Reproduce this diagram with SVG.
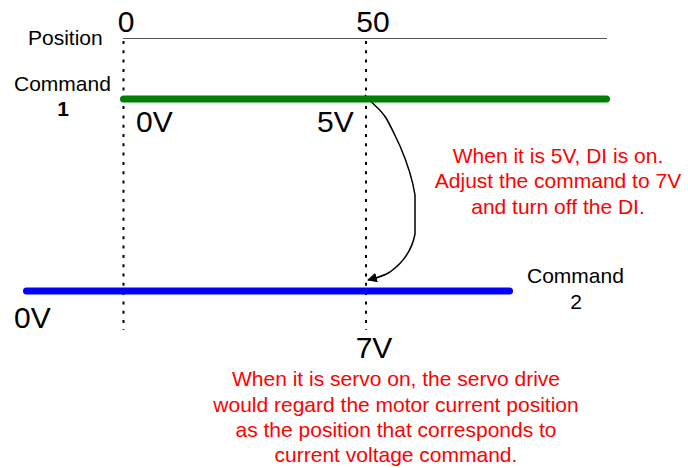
<svg xmlns="http://www.w3.org/2000/svg" width="688" height="468" viewBox="0 0 688 468">
<style>
text{font-family:"Liberation Sans",Arial,sans-serif;fill:#000}
.lbl{font-size:21px}
.big{font-size:30px}
.red{font-size:21px;fill:#ff0000;text-anchor:middle}
.dot{stroke:#000;stroke-width:2;stroke-dasharray:3 6.3;fill:none}
</style>
<defs>
<marker id="ah" markerWidth="10" markerHeight="10" refX="9" refY="5" orient="auto" markerUnits="userSpaceOnUse">
<path d="M0,0 L10,5 L0,10 Z" fill="#000"/>
</marker>
</defs>
<rect width="688" height="468" fill="#fff"/>
<g id="axis">
<line x1="123" y1="38.5" x2="607" y2="38.5" stroke="#555" stroke-width="1.2"/>
<text class="lbl" x="28" y="45">Position</text>
<text class="big" x="126" y="32" text-anchor="middle">0</text>
<text class="big" x="373" y="32" text-anchor="middle">50</text>
</g>
<g id="connectors">
<line class="dot" x1="123.5" y1="41" x2="123.5" y2="330"/>
<line class="dot" x1="366" y1="41" x2="366" y2="330"/>
<path d="M365,95 C372,104 380,108 386,118 C392,128 395,136 400,146 C406,160 412,176 415,195 L415,234 C412,250 404,262 390,272 C382,277 375,278 368,280" fill="none" stroke="#000" stroke-width="1.5" marker-end="url(#ah)"/>
</g>
<g id="command1">
<line x1="123.5" y1="99" x2="606.5" y2="99" stroke="#008000" stroke-width="7" stroke-linecap="round"/>
<text class="lbl" x="14" y="91">Command</text>
<text class="lbl" x="63" y="116" text-anchor="middle" font-weight="bold">1</text>
<text class="big" x="136" y="132">0V</text>
<text class="big" x="317" y="132">5V</text>
</g>
<g id="command2">
<line x1="26.5" y1="291" x2="509.5" y2="291" stroke="#0000ff" stroke-width="7" stroke-linecap="round"/>
<text class="lbl" x="527" y="283">Command</text>
<text class="lbl" x="576" y="309" text-anchor="middle">2</text>
<text class="big" x="14" y="328" font-size="35">0V</text>
<text class="big" x="374" y="358" text-anchor="middle">7V</text>
</g>
<g id="note1">
<text class="red" x="558" y="163">When it is 5V, DI is on.</text>
<text class="red" x="558" y="188">Adjust the command to 7V</text>
<text class="red" x="558" y="214">and turn off the DI.</text>
</g>
<g id="note2">
<text class="red" x="396" y="386">When it is servo on, the servo drive</text>
<text class="red" x="396" y="412">would regard the motor current position</text>
<text class="red" x="396" y="437">as the position that corresponds to</text>
<text class="red" x="396" y="462">current voltage command.</text>
</g>
</svg>
